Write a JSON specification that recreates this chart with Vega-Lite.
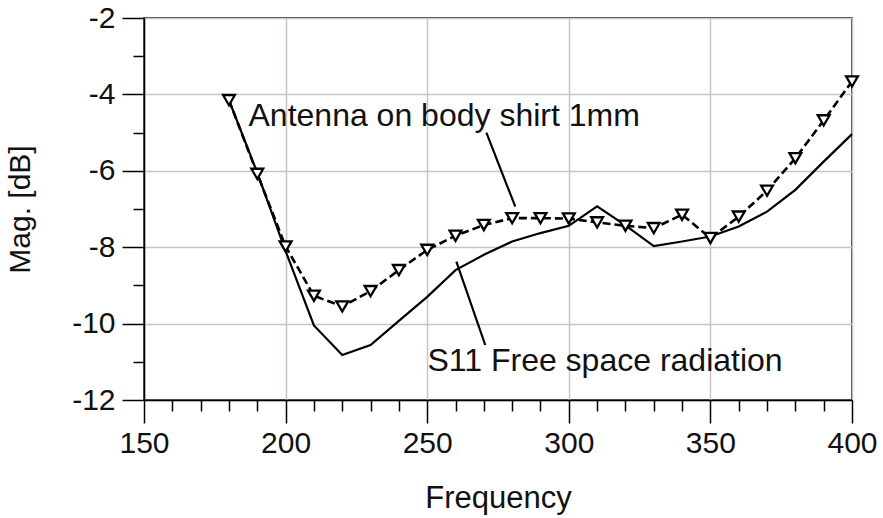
{
  "$schema": "https://vega.github.io/schema/vega-lite/v6.json",
  "autosize": "none",
  "width": 708,
  "height": 382,
  "padding": {"left": 144, "top": 18, "right": 31, "bottom": 118},
  "background": "white",
  "config": {
    "view": {"stroke": "black", "strokeWidth": 1.5},
    "font": "Liberation Sans"
  },
  "datasets": {
    "free": [
      {"f": 180, "mag": -4.15}, {"f": 190, "mag": -6.05}, {"f": 200, "mag": -8.1},
      {"f": 210, "mag": -10.05}, {"f": 220, "mag": -10.82}, {"f": 230, "mag": -10.56},
      {"f": 240, "mag": -9.93}, {"f": 250, "mag": -9.3}, {"f": 260, "mag": -8.6},
      {"f": 270, "mag": -8.2}, {"f": 280, "mag": -7.85}, {"f": 290, "mag": -7.63},
      {"f": 300, "mag": -7.44}, {"f": 310, "mag": -6.93}, {"f": 320, "mag": -7.43},
      {"f": 330, "mag": -7.97}, {"f": 340, "mag": -7.85}, {"f": 350, "mag": -7.72},
      {"f": 360, "mag": -7.46}, {"f": 370, "mag": -7.07}, {"f": 380, "mag": -6.5},
      {"f": 390, "mag": -5.76}, {"f": 400, "mag": -5.04}
    ],
    "body": [
      {"f": 180, "mag": -4.15}, {"f": 190, "mag": -6.08}, {"f": 200, "mag": -7.98},
      {"f": 210, "mag": -9.27}, {"f": 220, "mag": -9.55}, {"f": 230, "mag": -9.15},
      {"f": 240, "mag": -8.6}, {"f": 250, "mag": -8.07}, {"f": 260, "mag": -7.7},
      {"f": 270, "mag": -7.42}, {"f": 280, "mag": -7.24}, {"f": 290, "mag": -7.24},
      {"f": 300, "mag": -7.25}, {"f": 310, "mag": -7.35}, {"f": 320, "mag": -7.44},
      {"f": 330, "mag": -7.5}, {"f": 340, "mag": -7.15}, {"f": 350, "mag": -7.76},
      {"f": 360, "mag": -7.2}, {"f": 370, "mag": -6.52}, {"f": 380, "mag": -5.67},
      {"f": 390, "mag": -4.68}, {"f": 400, "mag": -3.66}
    ],
    "leaders": [
      {"f": 270.9, "mag": -5.0, "f2": 281.1, "mag2": -6.94},
      {"f": 260.3, "mag": -8.38, "f2": 270.5, "mag2": -10.56}
    ],
    "labels": [
      {"f": 186.9, "mag": -4.56, "label": "Antenna on body shirt 1mm"},
      {"f": 250.1, "mag": -10.98, "label": "S11 Free space radiation"}
    ]
  },
  "encoding": {
    "x": {
      "field": "f", "type": "quantitative",
      "scale": {"domain": [150, 400], "nice": false, "zero": false},
      "axis": {
        "title": "Frequency",
        "values": [150,160,170,180,190,200,210,220,230,240,250,260,270,280,290,300,310,320,330,340,350,360,370,380,390,400],
        "labelExpr": "datum.value % 50 === 0 ? '' + datum.value : ''",
        "labelFontSize": 30, "labelColor": "#111", "labelPadding": 5, "labelFlush": false,
        "titleFontSize": 31, "titleFontWeight": "normal", "titleColor": "#111", "titlePadding": 25,
        "tickSize": {"condition": {"test": "datum.value % 50 === 0", "value": 23}, "value": 11},
        "tickColor": "black", "tickWidth": 1.5,
        "domainColor": "black", "domainWidth": 1.5,
        "grid": true,
        "gridColor": "#cbc3c3", "gridWidth": 1.5,
        "gridOpacity": {"condition": {"test": "datum.value % 50 === 0", "value": 1}, "value": 0}
      }
    },
    "y": {
      "field": "mag", "type": "quantitative",
      "scale": {"domain": [-12, -2], "nice": false, "zero": false},
      "axis": {
        "title": "Mag. [dB]",
        "values": [-12,-11,-10,-9,-8,-7,-6,-5,-4,-3,-2],
        "labelExpr": "datum.value % 2 === 0 ? '' + datum.value : ''",
        "labelFontSize": 30, "labelColor": "#111", "labelPadding": 7, "labelFlush": false,
        "titleFontSize": 30, "titleFontWeight": "normal", "titleColor": "#111", "titlePadding": 36,
        "tickSize": {"condition": {"test": "datum.value % 2 === 0", "value": 22}, "value": 11},
        "tickColor": "black", "tickWidth": 1.5,
        "domainColor": "black", "domainWidth": 1.5,
        "grid": true,
        "gridColor": "#cbc3c3", "gridWidth": 1.5,
        "gridOpacity": {"condition": {"test": "datum.value % 2 === 0", "value": 1}, "value": 0}
      }
    }
  },
  "layer": [
    {
      "data": {"name": "free"},
      "mark": {"type": "line", "color": "black", "strokeWidth": 2.2}
    },
    {
      "data": {"name": "body"},
      "mark": {"type": "line", "color": "black", "strokeWidth": 2.6, "strokeDash": [8, 4]}
    },
    {
      "data": {"name": "body"},
      "mark": {"type": "point", "shape": "triangle-down", "size": 140, "filled": false, "fill": "white", "fillOpacity": 1, "stroke": "black", "strokeWidth": 2.3, "opacity": 1}
    },
    {
      "data": {"name": "leaders"},
      "mark": {"type": "rule", "color": "black", "strokeWidth": 2.2},
      "encoding": {
        "x2": {"field": "f2"},
        "y2": {"field": "mag2"}
      }
    },
    {
      "data": {"name": "labels"},
      "mark": {"type": "text", "align": "left", "baseline": "middle", "fontSize": 32, "color": "#111", "font": "Liberation Sans"},
      "encoding": {
        "text": {"field": "label"}
      }
    }
  ]
}
